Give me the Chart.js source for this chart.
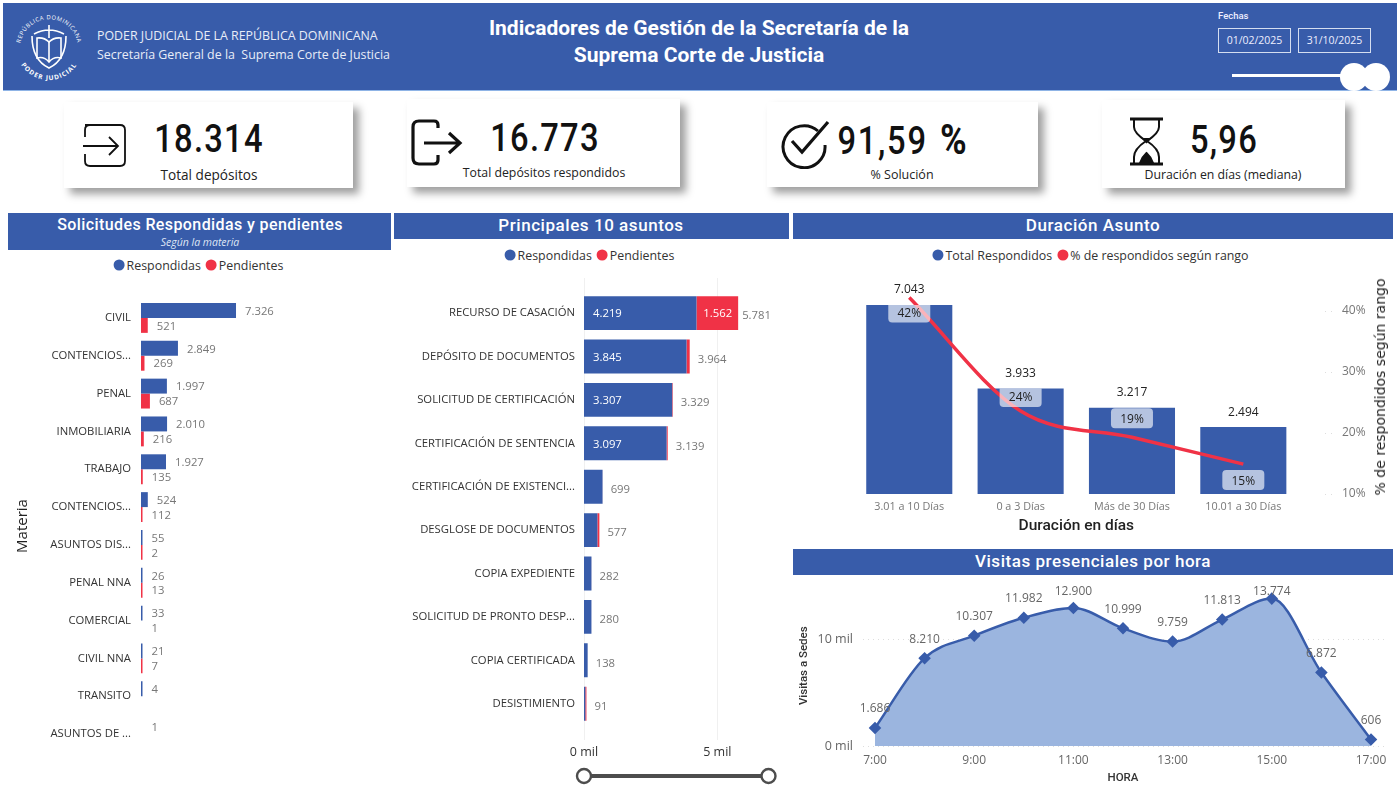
<!DOCTYPE html>
<html lang="es">
<head>
<meta charset="utf-8">
<title>Indicadores de Gestión</title>
<script src="https://cdn.jsdelivr.net/npm/chart.js@4"></script>
<style>
  html, body { margin: 0; background: #fff; }
  #page { position: relative; width: 1399px; height: 786px; overflow: hidden; font-family: "Open Sans", sans-serif; color: #333; }
  #page > * { position: absolute; }
  .c { text-align: center; white-space: nowrap; transform: translate(-50%, -50%); }
  .l { white-space: nowrap; transform: translateY(-50%); }
  .din { font-family: Roboto, sans-serif; }
  .header { left: 3px; top: 3px; width: 1394px; height: 88px; background: #385caa; border-bottom: 1px solid #8fb4e6; box-sizing: border-box; }
  .sec { background: #385caa; }
  .secTitle { color: #fff; font-family: Roboto, sans-serif; font-weight: 500; font-size: 17px; letter-spacing: .55px; }
  .card { background: #fff; box-shadow: 6px 6px 8px rgba(0,0,0,.38); }
  .kpi { font-family: Roboto, sans-serif; font-weight: 500; font-size: 38px; color: #111; letter-spacing: 1.5px; transform: translate(-50%, -50%) scaleX(.86); }
  .kpiLabel { color: #222; font-size: 12.3px; }
  .legend { display: flex; align-items: center; font-size: 12.4px; color: #333; white-space: nowrap; transform: translate(-50%, -50%); }
  .legend i { width: 11px; height: 11px; border-radius: 50%; margin: 0 2px 0 5px; }
  .box { border: 1px solid #d5def0; color: #eef; font-size: 10.5px; text-align: center; box-sizing: border-box; width: 73px; height: 25px; line-height: 23px; top: 28px; }
  canvas { display: block; }
</style>
</head>
<body>
<div id="page">
  <div class="header"></div>
  <svg style="left:10px;top:8px" width="78" height="78" viewBox="0 0 78 78" fill="none" stroke="#fff">
    <defs>
      <path id="arcTop" d="M12.500 52 A29 29 0 1 1 65.500 52"/>
      <path id="arcBot" d="M6 39 A33 33 0 0 0 72 39"/>
    </defs>
    <text font-size="5.800" fill="#fff" stroke="none" font-family="Open Sans" letter-spacing=".6"><textPath href="#arcTop" startOffset="50%" text-anchor="middle">REPÚBLICA DOMINICANA</textPath></text>
    <text font-size="6.500" fill="#fff" stroke="none" font-family="Open Sans" font-weight="700" letter-spacing="1"><textPath href="#arcBot" startOffset="50%" text-anchor="middle">PODER JUDICIAL</textPath></text>
    <path d="M22 28 Q22 52 39 60 Q56 52 56 28" stroke-width="1.6"/>
    <path d="M27 30 Q34 29 39 34 Q44 29 51 30 V50 Q44 48 39 54 Q34 48 27 50 Z" stroke-width="1.6"/>
    <path d="M39 34 V54 M39 17 V30 M24 26 Q39 18 54 26" stroke-width="1.6"/>
  </svg>
  <div class="l" style="left:97px;top:35px;color:#e8edf8;font-size:12.4px">PODER JUDICIAL DE LA REPÚBLICA DOMINICANA</div>
  <div class="l" style="left:97px;top:54px;color:#e8edf8;font-size:12.4px">Secretaría General de la&nbsp; Suprema Corte de Justicia</div>
  <div class="c din" style="left:699px;top:28px;color:#fff;font-weight:700;font-size:21px">Indicadores de Gestión de la Secretaría de la</div>
  <div class="c din" style="left:699px;top:55px;color:#fff;font-weight:700;font-size:21px">Suprema Corte de Justicia</div>
  <div class="l din" style="left:1218px;top:15px;color:#eef;font-size:9.5px;font-weight:500">Fechas</div>
  <div class="box" style="left:1218px">01/02/2025</div>
  <div class="box" style="left:1298px">31/10/2025</div>
  <svg style="left:1225px;top:60px" width="174" height="31" fill="#fff">
    <rect x="7" y="14" width="120" height="3"/>
    <circle cx="129" cy="17" r="14"/><circle cx="151" cy="17" r="14"/>
  </svg>

  <div class="card" style="left:64px;top:102px;width:289px;height:86px"></div>
  <div class="card" style="left:407px;top:99px;width:273px;height:88px"></div>
  <div class="card" style="left:767px;top:102px;width:271px;height:85px"></div>
  <div class="card" style="left:1102px;top:100px;width:243px;height:88px"></div>

  <svg style="left:80px;top:120px" width="50" height="52" fill="none" stroke="#111" stroke-width="1.8">
    <path d="M5 5 H40 Q45 5 45 10 V41 Q45 46 40 46 H10 Q5 46 5 41 V34 M5 17 V10 Q5 5 10 5"/>
    <path d="M3 26 H38 M29 17 L38 26 L29 35"/>
  </svg>
  <svg style="left:408px;top:116px" width="58" height="54" fill="none" stroke="#111" stroke-width="3.2">
    <path d="M30 12 V9 Q30 5 26 5 H11 Q5 5 5 11 V42 Q5 48 11 48 H26 Q30 48 30 44 V39"/>
    <path d="M16 27 H51 M41 17 L52 27 L41 37"/>
  </svg>
  <svg style="left:778px;top:117px" width="56" height="52" fill="none" stroke="#111" stroke-width="3">
    <path d="M40 14 A21 21 0 1 0 47 28"/>
    <path d="M14 24 L24 35 L50 5" stroke-width="3.2"/>
  </svg>
  <svg style="left:1126px;top:115px" width="42" height="53" fill="none" stroke="#111" stroke-width="2">
    <path d="M4 4 H37 M4 49 H37" stroke-width="3"/>
    <path d="M8 4 V12 Q8 18 20 26 Q8 34 8 42 V49 M33 4 V12 Q33 18 21 26 Q33 34 33 42 V49"/>
    <path d="M14 48 Q16 42 20.500 38 Q25 42 27 48 Z M17.500 24 H23.500 L20.500 27 Z" fill="#111"/>
  </svg>

  <div class="c kpi" style="left:209px;top:139px">18.314</div>
  <div class="c kpiLabel" style="left:209px;top:174px;font-size:13.6px">Total depósitos</div>
  <div class="c kpi" style="left:545px;top:138px">16.773</div>
  <div class="c kpiLabel" style="left:544px;top:172px">Total depósitos respondidos</div>
  <div class="c kpi" style="left:903px;top:139px;letter-spacing:2px;word-spacing:3px">91,59 <span style="font-size:42px;font-weight:700">%</span></div>
  <div class="c kpiLabel" style="left:902px;top:174px;font-size:12.5px">% Solución</div>
  <div class="c kpi" style="left:1224px;top:140px">5,96</div>
  <div class="c kpiLabel" style="left:1223px;top:174px">Duración en días (mediana)</div>

  <div class="sec" style="left:8px;top:213px;width:383px;height:37px"></div>
  <div class="c secTitle" style="left:200px;top:224px;font-size:16px;letter-spacing:.4px">Solicitudes Respondidas y pendientes</div>
  <div class="c" style="left:200px;top:242px;color:#dfe6f5;font-style:italic;font-size:10.5px">Según la materia</div>
  <div class="sec" style="left:394px;top:213px;width:395px;height:26px"></div>
  <div class="c secTitle" style="left:591px;top:225px">Principales 10 asuntos</div>
  <div class="sec" style="left:793px;top:213px;width:600px;height:26px"></div>
  <div class="c secTitle" style="left:1093px;top:225px">Duración Asunto</div>
  <div class="sec" style="left:793px;top:549px;width:600px;height:26px"></div>
  <div class="c secTitle" style="left:1093px;top:561px">Visitas presenciales por hora</div>

  <div class="legend" style="left:196px;top:265px"><i style="background:#385caa"></i>Respondidas<i style="background:#f03246"></i>Pendientes</div>
  <div class="legend" style="left:587px;top:255px"><i style="background:#385caa"></i>Respondidas<i style="background:#f03246"></i>Pendientes</div>
  <div class="legend" style="left:1088px;top:255px"><i style="background:#385caa"></i>Total Respondidos<i style="background:#f03246"></i>% de respondidos según rango</div>

  <canvas id="materiaChart" width="382" height="516" style="left:8px;top:270px"></canvas>
  <canvas id="asuntosChart" width="395" height="500" style="left:394px;top:270px"></canvas>
  <canvas id="duracionChart" width="600" height="270" style="left:793px;top:270px"></canvas>
  <canvas id="visitasChart" width="600" height="211" style="left:793px;top:575px"></canvas>

  <div class="c" style="left:1380px;top:387px;transform:translate(-50%,-50%) rotate(-90deg);font-family:'DejaVu Sans';font-size:14px;color:#222">% de respondidos según rango</div>

  <svg style="left:570px;top:762px" width="212" height="26" fill="#fff" stroke="#4d4d4d">
    <path d="M14 14 H198" stroke-width="4"/>
    <circle cx="14" cy="14" r="7" stroke-width="2.4"/><circle cx="198.500" cy="14" r="7" stroke-width="2.4"/>
  </svg>
</div>

<script>
const BLUE = '#385caa';
const RED = '#f03246';
const UI_FONT = '"Open Sans", sans-serif';

// Solicitudes segun materia
const materias = ['CIVIL', 'CONTENCIOS...', 'PENAL', 'INMOBILIARIA', 'TRABAJO', 'CONTENCIOS...', 'ASUNTOS DIS...', 'PENAL NNA', 'COMERCIAL', 'CIVIL NNA', 'TRANSITO', 'ASUNTOS DE ...'];
const materiaRespondidas = [7326, 2849, 1997, 2010, 1927, 524, 55, 26, 33, 21, 4, 1];
const materiaPendientes = [521, 269, 687, 216, 135, 112, 2, 13, 1, 7, null, null];

// Principales 10 asuntos
const asuntos = ['RECURSO DE CASACIÓN', 'DEPÓSITO DE DOCUMENTOS', 'SOLICITUD DE CERTIFICACIÓN', 'CERTIFICACIÓN DE SENTENCIA', 'CERTIFICACIÓN DE EXISTENCI...', 'DESGLOSE DE DOCUMENTOS', 'COPIA EXPEDIENTE', 'SOLICITUD DE PRONTO DESP...', 'COPIA CERTIFICADA', 'DESISTIMIENTO'];
const asuntoRespondidas = [4219, 3845, 3307, 3097, 696, 502, 280, 279, 137, 50];
const asuntoPendientes = [1562, 119, 22, 42, 3, 75, 2, 1, 1, 41];
const asuntoTotales = [5781, 3964, 3329, 3139, 699, 577, 282, 280, 138, 91];
const asuntoTicks = [0, 5000];

// Duracion
const rangos = ['3.01 a 10 Días', '0 a 3 Días', 'Más de 30 Días', '10.01 a 30 Días'];
const rangoTotales = [7043, 3933, 3217, 2494];
const rangoPorcentajes = [42.2, 23.6, 19.3, 14.9];

// Visitas por hora
const horas = ['7:00', '8:00', '9:00', '10:00', '11:00', '12:00', '13:00', '14:00', '15:00', '16:00', '17:00'];
const visitas = [1686, 8210, 10307, 11982, 12900, 10999, 9759, 11813, 13774, 6872, 606];
const visitasTicks = [0, 10000];

const miles = v => String(v).replace(/\B(?=(\d{3})+$)/g, '.');
const milTick = v => (v / 1000) + ' mil';
const fijarTicks = valores => s => { s.ticks = valores.map(value => ({ value })); };
// separacion de las etiquetas: tick invisible, porque ticks.padding tambien encoge el area vertical
const sinGrid = largo => ({ display: false, drawTicks: largo > 0, tickLength: largo });

function label(ctx, str, x, y, font, color, align) {
  ctx.save();
  ctx.font = font;
  ctx.fillStyle = color;
  ctx.textAlign = align || 'left';
  ctx.textBaseline = 'middle';
  ctx.fillText(str, x, y + 1);
  ctx.restore();
}

// lineas de cuadricula que se salen del area del grafico
const extraGrid = {
  id: 'extraGrid',
  beforeDatasetsDraw(chart, args, opts) {
    const scale = chart.scales[opts.axis];
    const ctx = chart.ctx;
    ctx.save();
    ctx.strokeStyle = opts.color;
    ctx.setLineDash(opts.dash || []);
    ctx.lineWidth = 1;
    scale.ticks.forEach(t => {
      const p = Math.round(scale.getPixelForValue(t.value)) + 0.5;
      ctx.beginPath();
      if (scale.isHorizontal()) {
        ctx.moveTo(p, opts.from);
        ctx.lineTo(p, opts.to);
      } else {
        ctx.moveTo(opts.from, p);
        ctx.lineTo(opts.to, p);
      }
      ctx.stroke();
    });
    ctx.restore();
  }
};

new Chart(document.getElementById('materiaChart'), {
  type: 'bar',
  data: {
    labels: materias,
    datasets: [
      { label: 'Respondidas', data: materiaRespondidas, backgroundColor: c => c.raw > 1 ? BLUE : 'transparent' },
      { label: 'Pendientes', data: materiaPendientes, backgroundColor: c => c.raw > 1 ? RED : 'transparent' }
    ]
  },
  options: {
    indexAxis: 'y',
    responsive: false,
    animation: false,
    minBarLength: 1.5,
    categoryPercentage: 0.79,
    barPercentage: 1,
    layout: { autoPadding: false, padding: { top: 29, bottom: 33 } },
    plugins: { legend: { display: false }, tooltip: { enabled: false } },
    scales: {
      x: { display: false, min: 0, max: 19200 },
      y: {
        afterFit: s => { s.width = 133; },
        border: { display: false },
        grid: sinGrid(10),
        ticks: { color: '#333', padding: 0, autoSkip: false, font: { family: UI_FONT, size: 11.3 } },
        title: { display: true, text: 'Materia', color: '#222', padding: { top: 6, bottom: 0 }, font: { family: UI_FONT, size: 15 } }
      }
    }
  },
  plugins: [{
    id: 'materiaLabels',
    afterDatasetsDraw(chart) {
      chart.data.datasets.forEach((ds, i) => {
        chart.getDatasetMeta(i).data.forEach((el, j) => {
          if (ds.data[j] == null) return;
          label(chart.ctx, miles(ds.data[j]), el.x + 9, el.y, '11.3px ' + UI_FONT, '#777');
        });
      });
    }
  }]
});

new Chart(document.getElementById('asuntosChart'), {
  type: 'bar',
  data: {
    labels: asuntos,
    datasets: [
      { label: 'Respondidas', data: asuntoRespondidas, backgroundColor: BLUE, stack: 's' },
      { label: 'Pendientes', data: asuntoPendientes, backgroundColor: RED, stack: 's' }
    ]
  },
  options: {
    indexAxis: 'y',
    responsive: false,
    animation: false,
    categoryPercentage: 0.78,
    barPercentage: 1,
    layout: { autoPadding: false, padding: { top: 21.4, right: 9 } },
    plugins: {
      legend: { display: false },
      tooltip: { enabled: false },
      extraGrid: { axis: 'x', from: 8, to: 470, color: '#f0f0f0' }
    },
    scales: {
      x: {
        stacked: true,
        min: 0,
        max: 7350,
        afterFit: s => { s.height = 44.6; },
        afterBuildTicks: fijarTicks(asuntoTicks),
        border: { display: false },
        grid: sinGrid(20),
        ticks: { color: '#333', padding: 0, font: { family: UI_FONT, size: 12.5 }, callback: milTick }
      },
      y: {
        stacked: true,
        afterFit: s => { s.width = 190; },
        border: { display: false },
        grid: sinGrid(9),
        ticks: { color: '#333', padding: 0, autoSkip: false, font: { family: UI_FONT, size: 11.3 } }
      }
    }
  },
  plugins: [extraGrid, {
    id: 'asuntoLabels',
    afterDatasetsDraw(chart) {
      const resp = chart.getDatasetMeta(0).data;
      const pend = chart.getDatasetMeta(1).data;
      const font = '11.3px ' + UI_FONT;
      asuntoTotales.forEach((total, i) => {
        const x = i === 0 ? pend[i].x + 4 : pend[i].x + 8;
        label(chart.ctx, miles(total), x, pend[i].y + 2, font, '#777');
        if (asuntoRespondidas[i] > 1000) {
          label(chart.ctx, miles(asuntoRespondidas[i]), resp[i].base + 9, resp[i].y, font, '#fff');
        }
        if (asuntoPendientes[i] > 1000) {
          label(chart.ctx, miles(asuntoPendientes[i]), pend[i].x - 6, pend[i].y, font, '#fff', 'right');
        }
      });
    }
  }]
});

// posicion de cada etiqueta de % respecto al punto de la linea
const pctDesvio = [15, -14, -19, 16];

new Chart(document.getElementById('duracionChart'), {
  data: {
    labels: rangos,
    datasets: [
      { type: 'line', label: '% de respondidos según rango', data: rangoPorcentajes, yAxisID: 'y1', borderColor: RED, borderWidth: 3.5, pointRadius: 0, cubicInterpolationMode: 'monotone', order: 1 },
      { type: 'bar', label: 'Total Respondidos', data: rangoTotales, yAxisID: 'y', backgroundColor: BLUE, categoryPercentage: 0.773, barPercentage: 1, order: 2 }
    ]
  },
  options: {
    responsive: false,
    animation: false,
    layout: { autoPadding: false, padding: { top: 16.6, left: 60.6 } },
    plugins: {
      legend: { display: false },
      tooltip: { enabled: false },
      extraGrid: { axis: 'y1', from: 532, to: 543, color: '#ddd', dash: [1, 5] }
    },
    scales: {
      x: {
        afterFit: s => { s.height = 46; },
        border: { display: false },
        grid: sinGrid(6),
        ticks: { color: '#777', padding: 0, font: { family: UI_FONT, size: 10.8 } },
        title: { display: true, text: 'Duración en días', color: '#222', padding: { top: 3, bottom: 5 }, font: { family: 'Roboto', size: 15.5, weight: '500' } }
      },
      y: { display: false, min: 0, max: 7730 },
      y1: {
        position: 'right',
        min: 10,
        max: 44,
        afterFit: s => { s.width = 94; },
        border: { display: false },
        grid: sinGrid(43),
        ticks: { stepSize: 10, includeBounds: false, color: '#777', padding: 0, font: { family: UI_FONT, size: 12 }, callback: v => v + '%' }
      }
    }
  },
  plugins: [extraGrid, {
    id: 'duracionLabels',
    afterDatasetsDraw(chart) {
      const ctx = chart.ctx;
      const line = chart.getDatasetMeta(0).data;
      const bars = chart.getDatasetMeta(1).data;
      rangoTotales.forEach((total, i) => {
        label(ctx, miles(total), bars[i].x, bars[i].y - 16, '12px ' + UI_FONT, '#222', 'center');
        const y = line[i].y + pctDesvio[i];
        const top = Math.max(y - 10, bars[i].y);
        ctx.save();
        ctx.fillStyle = 'rgba(255,255,255,.63)';
        ctx.beginPath();
        ctx.roundRect(bars[i].x - 21, top, 42, y + 10 - top, [top > y - 10 ? 0 : 4, top > y - 10 ? 0 : 4, 4, 4]);
        ctx.fill();
        ctx.restore();
        label(ctx, Math.round(rangoPorcentajes[i]) + '%', bars[i].x, y, '12px ' + UI_FONT, '#222', 'center');
      });
    }
  }]
});

new Chart(document.getElementById('visitasChart'), {
  type: 'line',
  data: {
    labels: horas,
    datasets: [{
      label: 'Visitas a Sedes',
      data: visitas,
      borderColor: BLUE,
      borderWidth: 2.5,
      backgroundColor: '#9bb5df',
      fill: 'origin',
      clip: false,
      cubicInterpolationMode: 'monotone',
      pointStyle: 'rectRot',
      pointRadius: 4.5,
      pointBackgroundColor: BLUE,
      pointBorderColor: BLUE
    }]
  },
  options: {
    responsive: false,
    animation: false,
    layout: { autoPadding: false, padding: { top: 10.5, right: 22 } },
    plugins: {
      legend: { display: false },
      tooltip: { enabled: false },
      extraGrid: { axis: 'y', from: 70, to: 592, color: '#ddd', dash: [1, 4] }
    },
    scales: {
      x: {
        afterFit: s => { s.height = 40; },
        border: { display: false },
        grid: sinGrid(7),
        ticks: { color: '#666', padding: 0, autoSkip: false, maxRotation: 0, font: { family: UI_FONT, size: 12 }, callback(v, i) { return i % 2 ? '' : horas[i]; } },
        title: { display: true, text: 'HORA', color: '#333', padding: { top: 2, bottom: 1 }, font: { family: 'Roboto', size: 11.5, weight: '500' } }
      },
      y: {
        min: 0,
        max: 15000,
        afterFit: s => { s.width = 82; },
        afterBuildTicks: fijarTicks(visitasTicks),
        border: { display: false },
        grid: sinGrid(22),
        ticks: { color: '#666', padding: 0, font: { family: UI_FONT, size: 12.5 }, callback: milTick },
        title: { display: true, text: 'Visitas a Sedes', color: '#333', padding: { top: 4, bottom: 0 }, font: { family: 'Roboto', size: 11.5, weight: '500' } }
      }
    }
  },
  plugins: [extraGrid, {
    id: 'visitasLabels',
    afterDatasetsDraw(chart) {
      chart.getDatasetMeta(0).data.forEach((pt, i) => {
        const y = Math.max(pt.y - 20, chart.chartArea.top + 5);
        label(chart.ctx, miles(visitas[i]), pt.x, y, '12px ' + UI_FONT, '#666', 'center');
      });
    }
  }]
});
</script>
</body>
</html>
